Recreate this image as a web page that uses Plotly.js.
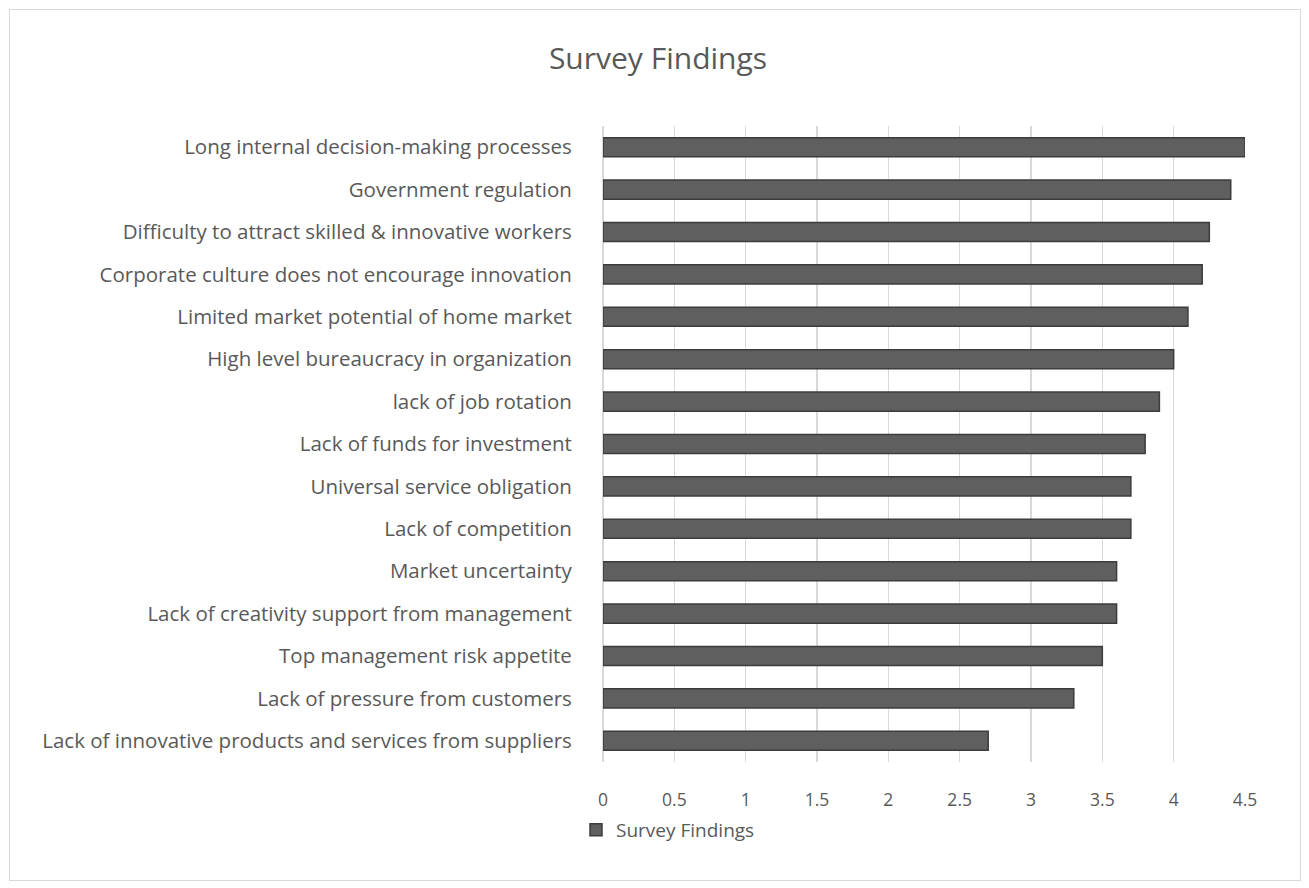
<!DOCTYPE html>
<html>
<head>
<meta charset="utf-8">
<script src="https://cdn.plot.ly/plotly-3.0.1.min.js"></script>
<style>
  html, body { margin: 0; padding: 0; background: #ffffff; }
  #chart { position: absolute; left: 0; top: 0; width: 1309px; height: 888px; }
  #frame { position: absolute; left: 9px; top: 9px; width: 1290px; height: 870px; border: 1px solid #d9d9d9; pointer-events: none; }
</style>
</head>
<body>
<div id="chart"></div>
<div id="frame"></div>
<script>
// Categories listed bottom to top
const categories = [
  "Lack of innovative products and services from suppliers",
  "Lack of pressure from customers",
  "Top management risk appetite",
  "Lack of creativity support from management",
  "Market uncertainty",
  "Lack of competition",
  "Universal service obligation",
  "Lack of funds for investment",
  "lack of job rotation",
  "High level bureaucracy in organization",
  "Limited market potential of home market",
  "Corporate culture does not encourage innovation",
  "Difficulty to attract skilled & innovative workers",
  "Government regulation",
  "Long internal decision-making processes"
];
const values = [2.7, 3.3, 3.5, 3.6, 3.6, 3.7, 3.7, 3.8, 3.9, 4.0, 4.1, 4.2, 4.25, 4.4, 4.5];
const seriesName = "Survey Findings";
const xTickValues = [0, 0.5, 1, 1.5, 2, 2.5, 3, 3.5, 4, 4.5];
const xTickLabels = ["0", "0.5", "1", "1.5", "2", "2.5", "3", "3.5", "4", "4.5"];

const fontFamily = "'Open Sans', 'Noto Sans', sans-serif";
const textColor = "#595959";

const trace = {
  type: "bar",
  orientation: "h",
  y: categories,
  x: values,
  name: seriesName,
  width: 0.45,
  marker: { color: "#5f5f5f", line: { color: "#3c3c3c", width: 1.5 } },
  hoverinfo: "none"
};

const layout = {
  width: 1309,
  height: 888,
  margin: { l: 603, r: 64, t: 126, b: 126 },
  paper_bgcolor: "#ffffff",
  plot_bgcolor: "#ffffff",
  title: {
    text: "Survey Findings",
    x: 658 / 1309, xanchor: "center", xref: "container",
    y: 1 - 58 / 888, yanchor: "middle", yref: "container",
    font: { family: fontFamily, size: 30, color: textColor }
  },
  xaxis: {
    range: [0, 4.5],
    tickvals: xTickValues,
    ticktext: xTickLabels,
    showgrid: true,
    gridcolor: "#d9d9d9",
    gridwidth: 1.5,
    zeroline: true,
    zerolinecolor: "#d9d9d9",
    zerolinewidth: 1.5,
    showline: false,
    ticks: "outside",
    ticklen: 22,
    tickcolor: "rgba(0,0,0,0)",
    tickfont: { family: fontFamily, size: 17.5, color: textColor },
    fixedrange: true
  },
  yaxis: {
    type: "category",
    categoryorder: "array",
    categoryarray: categories,
    showgrid: false,
    zeroline: false,
    showline: false,
    ticks: "outside",
    ticklen: 26,
    tickcolor: "rgba(0,0,0,0)",
    tickfont: { family: fontFamily, size: 20.5, color: textColor },
    automargin: false,
    fixedrange: true
  },
  bargap: 0.55,
  showlegend: true,
  legend: {
    orientation: "h",
    x: 668 / 1309, xref: "container", xanchor: "center",
    y: 1 - 830 / 888, yref: "container", yanchor: "middle",
    font: { family: fontFamily, size: 19, color: textColor },
    itemwidth: 30
  }
};

Plotly.newPlot("chart", [trace], layout, { displayModeBar: false, staticPlot: true });
</script>
</body>
</html>
